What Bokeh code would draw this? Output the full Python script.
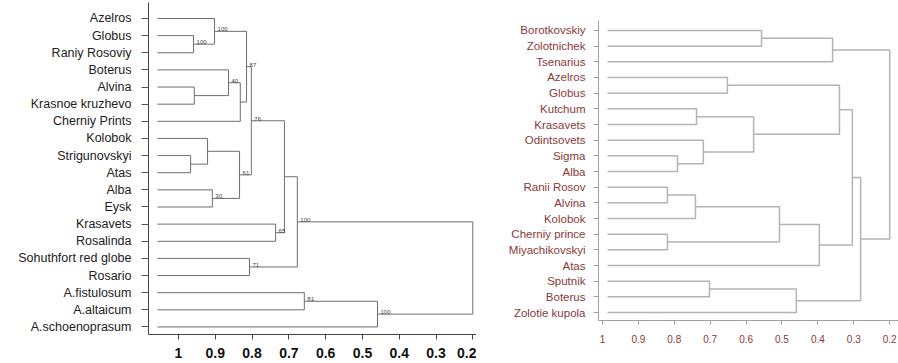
from bokeh.plotting import figure
from bokeh.layouts import row
from bokeh.models import Range1d, FixedTicker
from bokeh.core.properties import value
from bokeh.embed import file_html
from bokeh.resources import INLINE

# ---------------- Left dendrogram data ----------------
left_leaves = ["Azelros", "Globus", "Raniy Rosoviy", "Boterus", "Alvina",
               "Krasnoe kruzhevo", "Cherniy Prints", "Kolobok", "Strigunovskyi",
               "Atas", "Alba", "Eysk", "Krasavets", "Rosalinda",
               "Sohuthfort red globe", "Rosario", "A.fistulosum", "A.altaicum",
               "A.schoenoprasum"]
left_leaf_level = 1.057
# merge k creates node 19+k
left_a = [1, 0, 4, 3, 22, 20, 8, 7, 10, 26, 24, 12, 29, 14, 31, 16, 34, 33]
left_b = [2, 19, 5, 21, 6, 23, 9, 25, 11, 27, 28, 13, 30, 15, 32, 17, 18, 35]
left_height = [0.959, 0.902, 0.957, 0.864, 0.832, 0.815, 0.967, 0.921, 0.908,
               0.834, 0.802, 0.736, 0.712, 0.807, 0.677, 0.658, 0.459, 0.2]
left_boot = ["100", "100", "", "40", "", "87", "", "", "30", "61", "76", "65",
             "", "71", "100", "81", "100", ""]
left_ticks = [1.0, 0.9, 0.8, 0.7, 0.6, 0.5, 0.4, 0.3, 0.2]
left_tick_labels = ["1", "0.9", "0.8", "0.7", "0.6", "0.5", "0.4", "0.3", "0.2"]

# ---------------- Right dendrogram data ----------------
right_leaves = ["Borotkovskiy", "Zolotnichek", "Tsenarius", "Azelros", "Globus",
                "Kutchum", "Krasavets", "Odintsovets", "Sigma", "Alba",
                "Ranii Rosov", "Alvina", "Kolobok", "Cherniy prince",
                "Miyachikovskyi", "Atas", "Sputnik", "Boterus", "Zolotie kupola"]
right_leaf_level = 0.986
right_a = [0, 19, 3, 5, 8, 7, 22, 21, 10, 27, 13, 28, 30, 26, 16, 33, 32, 20]
right_b = [1, 2, 4, 6, 9, 23, 24, 25, 11, 12, 14, 29, 15, 31, 17, 18, 34, 35]
right_height = [0.557, 0.359, 0.652, 0.738, 0.791, 0.719, 0.579, 0.34, 0.819,
                0.741, 0.819, 0.507, 0.396, 0.304, 0.702, 0.46, 0.281, 0.2]
right_ticks = [1.0, 0.9, 0.8, 0.7, 0.6, 0.5, 0.4, 0.3, 0.2]
right_tick_labels = ["1", "0.9", "0.8", "0.7", "0.6", "0.5", "0.4", "0.3", "0.2"]


def dendro(n, a_list, b_list, heights, leaf_level):
    pos = {i: (leaf_level, i) for i in range(n)}
    xs, ys, mx, my = [], [], [], []
    for k, (a, b, h) in enumerate(zip(a_list, b_list, heights)):
        xa, ya = pos[a]
        xb, yb = pos[b]
        xs.append([xa, h, h, xb])
        ys.append([ya, ya, yb, yb])
        ym = (ya + yb) / 2
        pos[n + k] = (h, ym)
        mx.append(h)
        my.append(ym)
    return xs, ys, mx, my


FONT = "Liberation Sans"

# ---------------- Left figure ----------------
n1 = len(left_leaves)
xs1, ys1, mx1, my1 = dendro(n1, left_a, left_b, left_height, left_leaf_level)

p1 = figure(width=476, height=363, output_backend="svg", toolbar_location=None,
            x_range=Range1d(1.0815, 0.19), y_range=Range1d(18.44, -0.933),
            min_border_left=148, min_border_right=0, min_border_top=2,
            min_border_bottom=29)
p1.frame_align = False
p1.multi_line(xs1, ys1, line_color="#6e6e6e", line_width=1)
bx = [x for x, t in zip(mx1, left_boot) if t]
by = [y for y, t in zip(my1, left_boot) if t]
bt = [t for t in left_boot if t]
p1.text(x=bx, y=by, text=bt, x_offset=3, y_offset=0,
        text_font=value(FONT), text_font_size="6px", text_color="#444444",
        text_align="left", text_baseline="bottom")

p1.xgrid.visible = False
p1.ygrid.visible = False
p1.outline_line_color = None

p1.xaxis.ticker = FixedTicker(ticks=left_ticks)
p1.xaxis.major_label_overrides = dict(zip(left_ticks, left_tick_labels))
p1.xaxis.minor_tick_line_color = None
p1.xaxis.major_tick_out = 5
p1.xaxis.major_tick_in = 0
p1.xaxis.major_label_standoff = 8
p1.xaxis.axis_line_color = "#444444"
p1.xaxis.major_tick_line_color = "#444444"
p1.xaxis.major_label_text_font = FONT
p1.xaxis.major_label_text_font_style = "bold"
p1.xaxis.major_label_text_font_size = "14px"
p1.xaxis.major_label_text_color = "#111111"

p1.yaxis.ticker = FixedTicker(ticks=list(range(n1)))
p1.yaxis.major_label_overrides = {i: s for i, s in enumerate(left_leaves)}
p1.yaxis.minor_tick_line_color = None
p1.yaxis.major_tick_out = 7
p1.yaxis.major_tick_in = 0
p1.yaxis.major_label_standoff = 10
p1.yaxis.axis_line_color = "#444444"
p1.yaxis.major_tick_line_color = "#555555"
p1.yaxis.major_label_text_font = FONT
p1.yaxis.major_label_text_font_size = "12.5px"
p1.yaxis.major_label_text_color = "#222222"

# ---------------- Right figure ----------------
n2 = len(right_leaves)
xs2, ys2, mx2, my2 = dendro(n2, right_a, right_b, right_height, right_leaf_level)

RED = "#8a3838"
p2 = figure(width=422, height=363, output_backend="svg", toolbar_location=None,
            x_range=Range1d(1.011, 0.1755), y_range=Range1d(18.51, -0.638),
            min_border_left=122, min_border_right=0, min_border_top=20,
            min_border_bottom=43)
p2.frame_align = False
p2.multi_line(xs2, ys2, line_color="#b4b4b4", line_width=1.5)

p2.xgrid.visible = False
p2.ygrid.visible = False
p2.outline_line_color = None

p2.xaxis.ticker = FixedTicker(ticks=right_ticks)
p2.xaxis.major_label_overrides = dict(zip(right_ticks, right_tick_labels))
p2.xaxis.minor_tick_line_color = None
p2.xaxis.major_tick_out = 4
p2.xaxis.major_tick_in = 0
p2.xaxis.major_label_standoff = 10
p2.xaxis.axis_line_color = "#a0a0a0"
p2.xaxis.major_tick_line_color = "#a0a0a0"
p2.xaxis.major_label_text_font = FONT
p2.xaxis.major_label_text_font_size = "10px"
p2.xaxis.major_label_text_color = RED

p2.yaxis.ticker = FixedTicker(ticks=list(range(n2)))
p2.yaxis.major_label_overrides = {i: s for i, s in enumerate(right_leaves)}
p2.yaxis.minor_tick_line_color = None
p2.yaxis.major_tick_out = 5
p2.yaxis.major_tick_in = 0
p2.yaxis.major_label_standoff = 8
p2.yaxis.axis_line_color = "#a0a0a0"
p2.yaxis.major_tick_line_color = "#a0a0a0"
p2.yaxis.major_label_text_font = FONT
p2.yaxis.major_label_text_font_size = "11.5px"
p2.yaxis.major_label_text_color = RED

layout = row(p1, p2)
open("out.html", "w").write(file_html(layout, INLINE))
